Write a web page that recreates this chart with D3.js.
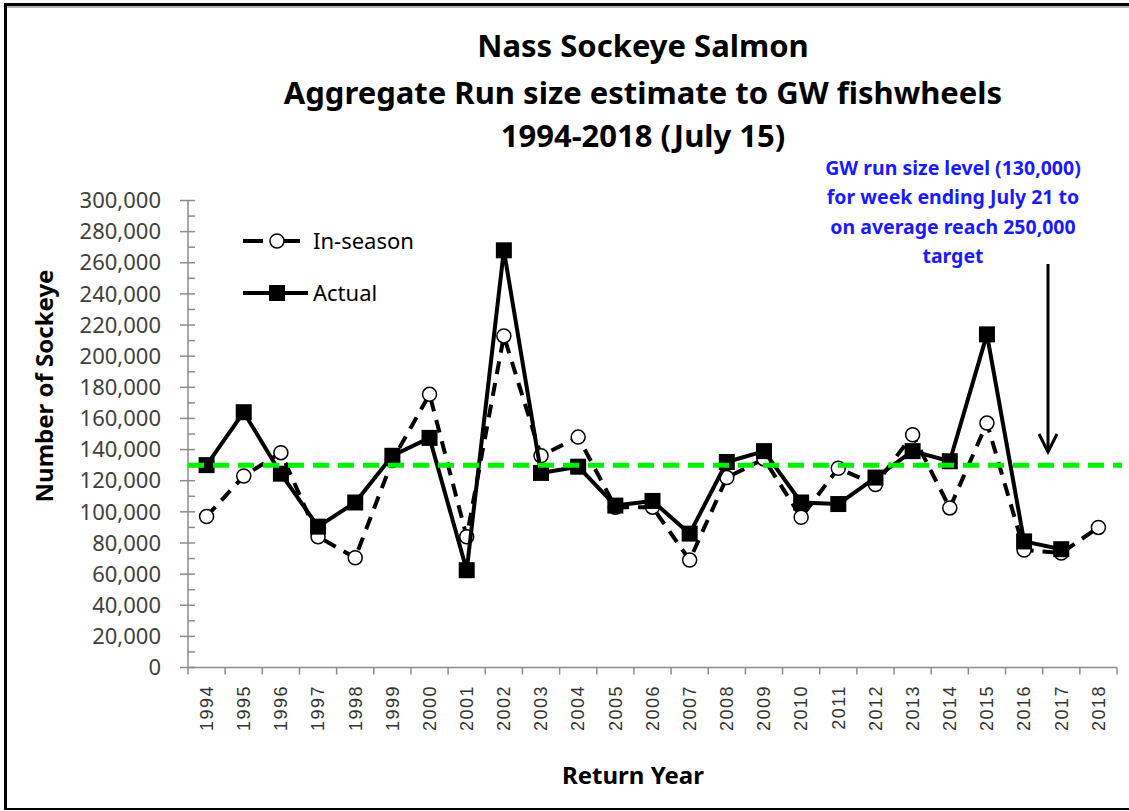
<!DOCTYPE html>
<html>
<head>
<meta charset="utf-8">
<script src="https://cdn.jsdelivr.net/npm/d3@7"></script>
<style>
	body { margin: 0; background: #fff; overflow: hidden; }
	svg { display: block; font-family: 'Noto Sans', sans-serif; }
	.title { font-weight: bold; font-size: 31px; fill: #000; }
	.axis-label { font-weight: bold; font-size: 24px; fill: #000; }
	.y-tick-label { font-size: 22px; fill: #404040; }
	.x-tick-label { font-family: 'Liberation Sans', Arial, sans-serif; font-size: 18px; letter-spacing: 1.5px; fill: #333; }
	.legend-text { font-size: 22px; fill: #000; }
	.note { font-weight: bold; font-size: 19.5px; fill: #1a1aff; }
</style>
</head>
<body>
<svg id="chart-svg" width="1129" height="811"></svg>
<script>
const YEARS = ['1994', '1995', '1996', '1997', '1998', '1999', '2000', '2001', '2002', '2003', '2004', '2005', '2006',
	'2007', '2008', '2009', '2010', '2011', '2012', '2013', '2014', '2015', '2016', '2017', '2018'];
const IN_SEASON = [97000, 123000, 138000, 84000, 70500, 133000, 175500, 84000, 213000, 136000, 148000, 103000, 103000,
	69000, 122000, 134000, 96500, 128000, 117500, 149500, 102500, 157000, 75500, 73500, 90000];
const ACTUAL = [130000, 164000, 124500, 90500, 106000, 136000, 147500, 62500, 268000, 125000, 129000, 104000, 107000,
	86000, 132000, 139000, 106000, 105000, 122000, 139000, 132500, 214000, 81000, 76000, null];
const Y_TICKS = d3.range(0, 300001, 20000);
const TARGET_LEVEL = [130000];
const TITLE_LINES = ['Nass Sockeye Salmon', 'Aggregate Run size estimate to GW fishwheels', '1994-2018 (July 15)'];
const NOTE_LINES = ['GW run size level (130,000)', 'for week ending July 21 to', 'on average reach 250,000', 'target'];

const PLOT = { left: 188, right: 1117, top: 200.5, bottom: 667.5 };
const svg = d3.select('#chart-svg');

// outer frame (right side is cut off in the original)
const frame = svg.append('g').attr('id', 'frame');
frame.append('line').attr('x1', 5).attr('x2', 1129).attr('y1', 4.5).attr('y2', 4.5)
	.attr('stroke', '#000').attr('stroke-width', 3);
frame.append('line').attr('x1', 7).attr('x2', 1129).attr('y1', 7).attr('y2', 7)
	.attr('stroke', '#999').attr('stroke-width', 1.5);
frame.append('line').attr('x1', 5.5).attr('x2', 5.5).attr('y1', 3).attr('y2', 810)
	.attr('stroke', '#000').attr('stroke-width', 3);
frame.append('line').attr('x1', 4).attr('x2', 1129).attr('y1', 809).attr('y2', 809)
	.attr('stroke', '#000').attr('stroke-width', 2);

const xScale = d3.scaleBand().domain(YEARS).range([PLOT.left, PLOT.right]);
const yScale = d3.scaleLinear().domain([0, 300000]).range([PLOT.bottom, PLOT.top]);
const cx = (i) => xScale(YEARS[i]) + xScale.bandwidth() / 2;

// titles
svg.selectAll('.title')
	.data(TITLE_LINES)
	.enter()
	.append('text')
	.attr('class', 'title')
	.attr('x', 643)
	.attr('y', (d, i) => [46, 93, 136][i])
	.attr('dy', '0.35em')
	.attr('text-anchor', 'middle')
	.text((d) => d);

// y axis: major ticks crossing, minor ticks inside
const axisColor = '#8c8c8c';
const yAxisG = svg.append('g').attr('id', 'y-axis');
yAxisG.append('line')
	.attr('x1', PLOT.left).attr('x2', PLOT.left)
	.attr('y1', PLOT.top).attr('y2', PLOT.bottom)
	.attr('stroke', axisColor).attr('stroke-width', 1.5);
yAxisG.selectAll('.minor')
	.data(d3.range(10000, 300000, 20000))
	.enter()
	.append('line')
	.attr('x1', PLOT.left).attr('x2', PLOT.left + 7)
	.attr('y1', (d) => yScale(d)).attr('y2', (d) => yScale(d))
	.attr('stroke', axisColor).attr('stroke-width', 1.5);
yAxisG.selectAll('.major')
	.data(Y_TICKS)
	.enter()
	.append('line')
	.attr('x1', PLOT.left - 8).attr('x2', PLOT.left + 7)
	.attr('y1', (d) => yScale(d)).attr('y2', (d) => yScale(d))
	.attr('stroke', axisColor).attr('stroke-width', 1.5);
yAxisG.selectAll('text')
	.data(Y_TICKS)
	.enter()
	.append('text')
	.attr('class', 'y-tick-label')
	.attr('x', 161)
	.attr('y', (d) => yScale(d))
	.attr('dy', '0.35em')
	.attr('text-anchor', 'end')
	.text((d) => d3.format(',')(d));

// x axis with ticks between categories
const xAxisG = svg.append('g').attr('id', 'x-axis');
xAxisG.append('line')
	.attr('x1', PLOT.left).attr('x2', PLOT.right)
	.attr('y1', PLOT.bottom).attr('y2', PLOT.bottom)
	.attr('stroke', axisColor).attr('stroke-width', 1.5);
xAxisG.selectAll('.tick')
	.data(YEARS.concat(['end']))
	.enter()
	.append('line')
	.attr('x1', (d, i) => PLOT.left + i * xScale.step())
	.attr('x2', (d, i) => PLOT.left + i * xScale.step())
	.attr('y1', PLOT.bottom).attr('y2', PLOT.bottom + 7)
	.attr('stroke', axisColor).attr('stroke-width', 1.5);
xAxisG.selectAll('text')
	.data(YEARS)
	.enter()
	.append('text')
	.attr('class', 'x-tick-label')
	.attr('transform', (d, i) => 'translate(' + cx(i) + ',' + 685 + ') rotate(-90)')
	.attr('dy', '0.35em')
	.attr('text-anchor', 'end')
	.text((d) => d);

// axis titles
svg.append('text')
	.attr('class', 'axis-label')
	.attr('transform', 'translate(45,386) rotate(-90)')
	.attr('dy', '0.35em')
	.attr('text-anchor', 'middle')
	.text('Number of Sockeye');
svg.append('text')
	.attr('class', 'axis-label')
	.attr('x', 633)
	.attr('y', 776)
	.attr('dy', '0.35em')
	.attr('text-anchor', 'middle')
	.text('Return Year');

// in-season series (dashed, open circles)
const inSeasonLine = d3.line()
	.defined((d) => d != null)
	.x((d, i) => cx(i))
	.y((d) => yScale(d));
svg.append('path')
	.datum(IN_SEASON)
	.attr('d', inSeasonLine)
	.attr('fill', 'none')
	.attr('stroke', '#000')
	.attr('stroke-width', 4)
	.attr('stroke-dasharray', '13,9');
svg.selectAll('.in-season-dot')
	.data(IN_SEASON)
	.enter()
	.append('circle')
	.attr('class', 'in-season-dot')
	.attr('cx', (d, i) => cx(i))
	.attr('cy', (d) => yScale(d))
	.attr('r', 7)
	.attr('fill', '#fff')
	.attr('stroke', '#000')
	.attr('stroke-width', 1.5);

// actual series (solid, filled squares)
const sq = 16;
svg.append('path')
	.datum(ACTUAL)
	.attr('d', d3.line().defined((d) => d != null).x((d, i) => cx(i)).y((d) => yScale(d)))
	.attr('fill', 'none')
	.attr('stroke', '#000')
	.attr('stroke-width', 4)
	.attr('stroke-linejoin', 'round');
svg.selectAll('.actual-dot')
	.data(ACTUAL.map((v, i) => ({ v: v, i: i })).filter((d) => d.v != null))
	.enter()
	.append('rect')
	.attr('class', 'actual-dot')
	.attr('x', (d) => cx(d.i) - sq / 2)
	.attr('y', (d) => yScale(d.v) - sq / 2)
	.attr('width', sq)
	.attr('height', sq)
	.attr('fill', '#000');

// target reference line
svg.selectAll('.target')
	.data(TARGET_LEVEL)
	.enter()
	.append('line')
	.attr('class', 'target')
	.attr('x1', PLOT.left).attr('x2', 1122)
	.attr('y1', (d) => yScale(d)).attr('y2', (d) => yScale(d))
	.attr('stroke', '#00f000')
	.attr('stroke-width', 5)
	.attr('stroke-dasharray', '16,9');

// legend
const legendG = svg.append('g').attr('id', 'legend');
legendG.append('line').attr('x1', 243).attr('x2', 300).attr('y1', 241).attr('y2', 241)
	.attr('stroke', '#000').attr('stroke-width', 4).attr('stroke-dasharray', '20,20');
legendG.append('circle').attr('cx', 277).attr('cy', 241).attr('r', 7)
	.attr('fill', '#fff').attr('stroke', '#000').attr('stroke-width', 1.5);
legendG.append('text').attr('class', 'legend-text').attr('x', 313).attr('y', 241).attr('dy', '0.35em').text('In-season');
legendG.append('line').attr('x1', 243).attr('x2', 308).attr('y1', 293).attr('y2', 293)
	.attr('stroke', '#000').attr('stroke-width', 4);
legendG.append('rect').attr('x', 277 - sq / 2).attr('y', 293 - sq / 2).attr('width', sq).attr('height', sq).attr('fill', '#000');
legendG.append('text').attr('class', 'legend-text').attr('x', 313).attr('y', 293).attr('dy', '0.35em').text('Actual');

// annotation and arrow
svg.selectAll('.note')
	.data(NOTE_LINES)
	.enter()
	.append('text')
	.attr('class', 'note')
	.attr('x', 953)
	.attr('y', (d, i) => 168 + i * 29.5)
	.attr('dy', '0.35em')
	.attr('text-anchor', 'middle')
	.text((d) => d);
const arrowX = 1048;
svg.append('line').attr('x1', arrowX).attr('x2', arrowX).attr('y1', 264).attr('y2', 452)
	.attr('stroke', '#000').attr('stroke-width', 3);
svg.append('path')
	.attr('d', 'M' + (arrowX - 9) + ',434 L' + arrowX + ',452 L' + (arrowX + 9) + ',434')
	.attr('fill', 'none').attr('stroke', '#000').attr('stroke-width', 3);
</script>
</body>
</html>
